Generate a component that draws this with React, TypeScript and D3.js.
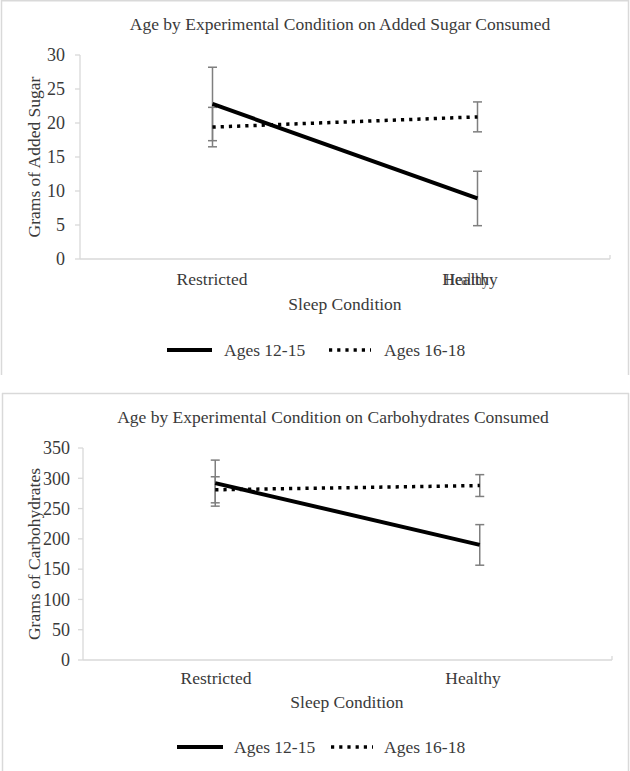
import React from "react";
import * as d3 from "d3";

const categories = ["Restricted", "Healthy"];
const seriesNames = ["Ages 12-15", "Ages 16-18"];

const sugarYoung = [22.8, 8.9];
const sugarYoungErr = [5.4, 4.0];
const sugarOld = [19.4, 20.9];
const sugarOldErr = [2.9, 2.2];
const sugarTicks = [0, 5, 10, 15, 20, 25, 30];

const carbYoung = [292, 190];
const carbYoungErr = [38, 33.5];
const carbOld = [281, 288];
const carbOldErr = [21.5, 18];
const carbTicks = [0, 50, 100, 150, 200, 250, 300, 350];

const FONT = "'Liberation Serif', 'Times New Roman', serif";
const TXT = "#3a3a3a";
const AXIS = "#d9d9d9";
const ERR = "#7f7f7f";

type PanelProps = {
  title: string;
  yTitle: string;
  young: number[];
  youngErr: number[];
  old: number[];
  oldErr: number[];
  ticks: number[];
  yMax: number;
  x0: number;
  x1: number;
  yTop: number;
  yBottom: number;
  titleX: number;
  titleY: number;
  yTitleY: number;
  catY: number;
  catX: number[];
  xTitleX: number;
  xTitleY: number;
  legY: number;
  leg1: [number, number, number];
  leg2: [number, number, number];
  tickRight: number;
  doubleHealthy?: boolean;
};

function Panel(p: PanelProps) {
  const x = d3.scalePoint<string>().domain(categories).range([p.x0, p.x1]).padding(0.5);
  const y = d3.scaleLinear().domain([0, p.yMax]).range([p.yBottom, p.yTop]);
  const line = d3
    .line<number>()
    .x((_, i) => x(categories[i]) as number)
    .y((d) => y(d));

  const errBars = (vals: number[], errs: number[], key: string) =>
    vals.map((v, i) => {
      const cx = x(categories[i]) as number;
      const hi = y(v + errs[i]);
      const lo = y(v - errs[i]);
      return (
        <g key={key + i} stroke={ERR} strokeWidth={1.5}>
          <line x1={cx} x2={cx} y1={hi} y2={lo} />
          <line x1={cx - 4.5} x2={cx + 4.5} y1={hi} y2={hi} />
          <line x1={cx - 4.5} x2={cx + 4.5} y1={lo} y2={lo} />
        </g>
      );
    });

  return (
    <g fontFamily={FONT} fill={TXT}>
      <text x={p.titleX} y={p.titleY} textAnchor="middle" fontSize={17.5}>
        {p.title}
      </text>
      {/* y axis */}
      <line x1={p.x0} x2={p.x0} y1={p.yTop} y2={p.yBottom} stroke={AXIS} strokeWidth={1.3} />
      {p.ticks.map((t) => (
        <g key={t}>
          <line x1={p.x0 - 5} x2={p.x0} y1={y(t)} y2={y(t)} stroke={AXIS} strokeWidth={1.3} />
          <text x={p.tickRight} y={y(t)} dy="0.35em" textAnchor="end" fontSize={18}>
            {t}
          </text>
        </g>
      ))}
      {/* x axis */}
      <line x1={p.x0} x2={p.x1} y1={p.yBottom} y2={p.yBottom} stroke={AXIS} strokeWidth={1.3} />
      <line x1={p.x1} x2={p.x1} y1={p.yBottom} y2={p.yBottom - 4} stroke={AXIS} strokeWidth={1.3} />
      {categories.map((c, i) => (
        <text key={c} x={p.catX[i]} y={p.catY} textAnchor="middle" fontSize={17.5}>
          {c}
        </text>
      ))}
      {p.doubleHealthy && (
        <text x={p.catX[1] - 3} y={p.catY} textAnchor="middle" fontSize={17.5} textLength={44} lengthAdjust="spacingAndGlyphs" opacity={0.85}>
          {categories[1]}
        </text>
      )}
      <text x={p.xTitleX} y={p.xTitleY} textAnchor="middle" fontSize={17.5}>
        Sleep Condition
      </text>
      <text
        transform={`translate(40,${p.yTitleY}) rotate(-90)`}
        textAnchor="middle"
        fontSize={17.5}
      >
        {p.yTitle}
      </text>
      {/* error bars */}
      {errBars(p.young, p.youngErr, "ey")}
      {errBars(p.old, p.oldErr, "eo")}
      {/* lines */}
      <path d={line(p.old) || ""} fill="none" stroke="#000" strokeWidth={3.5} strokeDasharray="3.2 5" />
      <path d={line(p.young) || ""} fill="none" stroke="#000" strokeWidth={4} />
      {/* legend */}
      <line x1={p.leg1[0]} x2={p.leg1[1]} y1={p.legY} y2={p.legY} stroke="#000" strokeWidth={4} />
      <text x={p.leg1[2]} y={p.legY + 5.5} fontSize={17.5}>
        {seriesNames[0]}
      </text>
      <line x1={p.leg2[0]} x2={p.leg2[1]} y1={p.legY} y2={p.legY} stroke="#000" strokeWidth={3.5} strokeDasharray="3.2 5" />
      <text x={p.leg2[2]} y={p.legY + 5.5} fontSize={17.5}>
        {seriesNames[1]}
      </text>
    </g>
  );
}

export default function App() {
  return (
    <svg
      width={630}
      height={771}
      style={{ position: "absolute", left: 0, top: 0, background: "#fff" }}
    >
      <rect x={0} y={0} width={630} height={771} fill="#fff" />
      {/* panel borders */}
      <g stroke={AXIS} strokeWidth={1.5} fill="none">
        <line x1={1} x2={629} y1={0.8} y2={0.8} />
        <line x1={1.5} x2={1.5} y1={0} y2={375} />
        <line x1={628.5} x2={628.5} y1={0} y2={375} />
        <line x1={2} x2={629} y1={393.5} y2={393.5} />
        <line x1={2.5} x2={2.5} y1={393} y2={771} />
        <line x1={628.5} x2={628.5} y1={393} y2={771} />
      </g>
      <Panel
        title="Age by Experimental Condition on Added Sugar Consumed"
        yTitle="Grams of Added Sugar"
        young={sugarYoung}
        youngErr={sugarYoungErr}
        old={sugarOld}
        oldErr={sugarOldErr}
        ticks={sugarTicks}
        yMax={30}
        x0={80}
        x1={610}
        yTop={55}
        yBottom={259}
        titleX={340}
        titleY={30}
        yTitleY={157}
        catY={285}
        catX={[212, 470]}
        xTitleX={345}
        xTitleY={310}
        legY={350}
        leg1={[167, 212, 224]}
        leg2={[329, 371, 384]}
        tickRight={65}
        doubleHealthy={true}
      />
      <Panel
        title="Age by Experimental Condition on Carbohydrates Consumed"
        yTitle="Grams of Carbohydrates"
        young={carbYoung}
        youngErr={carbYoungErr}
        old={carbOld}
        oldErr={carbOldErr}
        ticks={carbTicks}
        yMax={350}
        x0={83}
        x1={612}
        yTop={448}
        yBottom={660}
        titleX={333}
        titleY={423}
        yTitleY={554}
        catY={684}
        catX={[216, 473]}
        xTitleX={347}
        xTitleY={708}
        legY={747}
        leg1={[177, 223, 234]}
        leg2={[331, 373, 384]}
        tickRight={70}
      />
    </svg>
  );
}
